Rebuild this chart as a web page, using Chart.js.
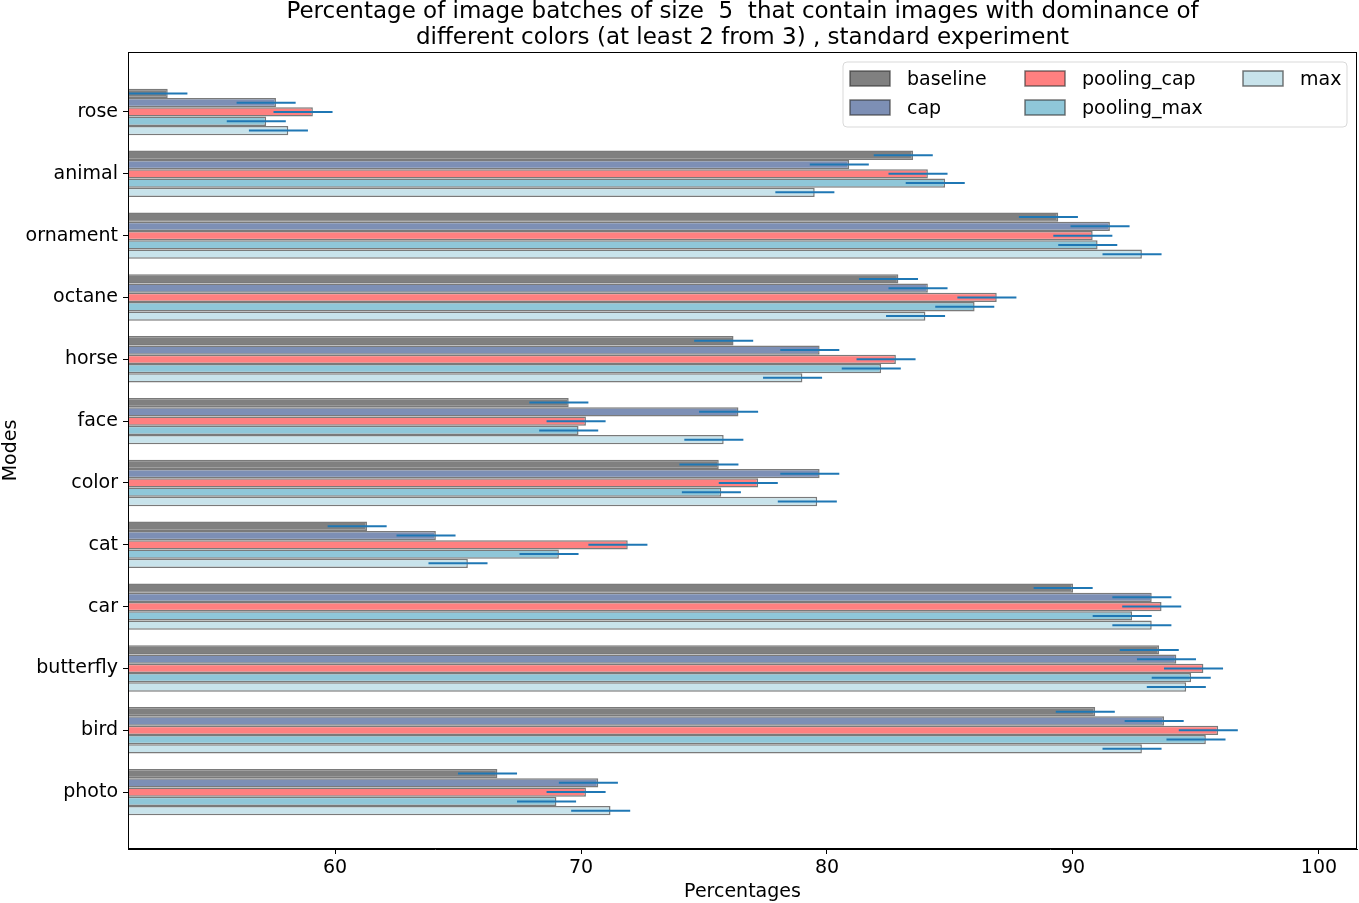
<!DOCTYPE html>
<html>
<head>
<meta charset="utf-8">
<title>Dominance of different colors</title>
<script src="https://cdn.jsdelivr.net/npm/chart.js@4"></script>
<style>
  html, body { margin: 0; padding: 0; background: #fff; }
  #wrap { width: 1359px; height: 903px; position: relative; }
</style>
</head>
<body>
<div id="wrap"><canvas id="chart"></canvas></div>
<script>
const categories = ["rose", "animal", "ornament", "octane", "horse", "face", "color", "cat", "car", "butterfly", "bird", "photo"];
const seriesNames = ["baseline", "cap", "pooling_cap", "pooling_max", "max"];

const baseline   = [53.2, 83.5, 89.4, 82.9, 76.2, 69.5, 75.6, 61.3, 90.0, 93.5, 90.9, 66.6];
const cap        = [57.6, 80.9, 91.5, 84.1, 79.7, 76.4, 79.7, 64.1, 93.2, 94.2, 93.7, 70.7];
const poolingCap = [59.1, 84.1, 90.8, 86.9, 82.8, 70.2, 77.2, 71.9, 93.6, 95.3, 95.9, 70.2];
const poolingMax = [57.2, 84.8, 91.0, 86.0, 82.2, 69.9, 75.7, 69.1, 92.4, 94.8, 95.4, 69.0];
const maxSeries  = [58.1, 79.5, 92.8, 84.0, 79.0, 75.8, 79.6, 65.4, 93.2, 94.6, 92.8, 71.2];

// error bar extent below / above the bar end
const errLow = 1.6;
const errHigh = 0.8;

const xTicks = [60, 70, 80, 90, 100];
const colors = ["#808080", "#7d8fb5", "#ff8080", "#8fc7d9", "#c8e3eb"];
const titleLines = [
  "Percentage of image batches of size  5  that contain images with dominance of",
  "different colors (at least 2 from 3) , standard experiment"
];

const FONT = "'DejaVu Sans', sans-serif";
const allSeries = [baseline, cap, poolingCap, poolingMax, maxSeries];

const datasets = allSeries.map((vals, s) => ({
  label: seriesNames[s],
  data: vals.map((v, i) => ({ x: v, y: i })),
  backgroundColor: colors[s],
  borderColor: "rgba(50,50,50,0.65)",
  borderWidth: 1.5,
  borderSkipped: false,
  categoryPercentage: 0.75,
  barPercentage: 1.0
}));

// horizontal error bars
const errorBars = {
  id: "errorBars",
  afterDatasetsDraw(chart) {
    const { ctx, chartArea: a, scales: { x } } = chart;
    ctx.save();
    ctx.beginPath();
    ctx.rect(a.left, a.top, a.right - a.left, a.bottom - a.top);
    ctx.clip();
    ctx.strokeStyle = "#1f77b4";
    ctx.lineWidth = 2;
    chart.data.datasets.forEach((ds, s) => {
      const meta = chart.getDatasetMeta(s);
      meta.data.forEach((bar, i) => {
        const v = ds.data[i].x;
        ctx.beginPath();
        ctx.moveTo(x.getPixelForValue(v - errLow), bar.y);
        ctx.lineTo(x.getPixelForValue(v + errHigh), bar.y);
        ctx.stroke();
      });
    });
    ctx.restore();
  }
};

// title centred over the plot, frame round the plot and a three-column legend
const decorations = {
  id: "decorations",
  afterDraw(chart) {
    const { ctx, chartArea: a } = chart;
    ctx.save();
    ctx.fillStyle = "#000";
    ctx.font = "23px " + FONT;
    ctx.textAlign = "center";
    ctx.textBaseline = "alphabetic";
    const cx0 = (a.left + a.right) / 2;
    ctx.fillText(titleLines[0], cx0, 18);
    ctx.fillText(titleLines[1], cx0, 44);

    ctx.strokeStyle = "#000";
    ctx.lineWidth = 1;
    ctx.strokeRect(a.left + 0.5, a.top + 0.5, a.right - a.left - 1, a.bottom - a.top - 1);

    // legend box
    const bx = 843, by = 62, bw = 504, bh = 65, r = 4;
    ctx.beginPath();
    ctx.moveTo(bx + r, by);
    ctx.arcTo(bx + bw, by, bx + bw, by + bh, r);
    ctx.arcTo(bx + bw, by + bh, bx, by + bh, r);
    ctx.arcTo(bx, by + bh, bx, by, r);
    ctx.arcTo(bx, by, bx + bw, by, r);
    ctx.closePath();
    ctx.fillStyle = "rgba(255,255,255,0.8)";
    ctx.fill();
    ctx.strokeStyle = "#d9d9d9";
    ctx.stroke();

    const colX = [850, 1025, 1243];
    const rowY = [78.5, 107.5];
    ctx.font = "19px " + FONT;
    ctx.textBaseline = "middle";
    ctx.textAlign = "left";
    chart.data.datasets.forEach((ds, s) => {
      const cx = colX[Math.floor(s / 2)];
      const cy = rowY[s % 2];
      ctx.fillStyle = ds.backgroundColor;
      ctx.fillRect(cx, cy - 7.5, 40, 15);
      ctx.strokeStyle = "rgba(50,50,50,0.65)";
      ctx.lineWidth = 1.5;
      ctx.strokeRect(cx, cy - 7.5, 40, 15);
      ctx.fillStyle = "#000";
      ctx.fillText(ds.label, cx + 57, cy + 1.5);
    });
    ctx.restore();
  }
};

new Chart(document.getElementById("chart"), {
  type: "bar",
  data: { datasets },
  plugins: [errorBars, decorations],
  options: {
    indexAxis: "y",
    responsive: true,
    maintainAspectRatio: false,
    animation: false,
    devicePixelRatio: 1,
    layout: { padding: { top: 52, left: 0, right: 2, bottom: 0 } },
    plugins: {
      legend: { display: false },
      tooltip: { enabled: false },
      title: { display: false }
    },
    scales: {
      x: {
        type: "linear",
        min: 51.585,
        max: 101.545,
        afterBuildTicks: (s) => { s.ticks = xTicks.map(v => ({ value: v })); },
        afterFit: (s) => { s.height = 54; },
        ticks: { color: "#000", font: { family: FONT, size: 19 }, padding: 3, maxRotation: 0 },
        grid: { drawOnChartArea: false, drawTicks: true, tickLength: 5, tickColor: "#000" },
        border: { display: true, color: "#000" },
        title: { display: true, text: "Percentages", color: "#000", padding: 0, font: { family: FONT, size: 19 } }
      },
      y: {
        type: "linear",
        reverse: true,
        offset: false,
        min: -0.97,
        max: 11.92,
        afterBuildTicks: (s) => { s.ticks = categories.map((_, i) => ({ value: i })); },
        afterFit: (s) => { s.width = 128; },
        ticks: {
          color: "#000",
          font: { family: FONT, size: 19 },
          padding: 5,
          callback: (v) => categories[v] ?? ""
        },
        grid: { offset: false, drawOnChartArea: false, drawTicks: true, tickLength: 5, tickColor: "#000" },
        border: { display: true, color: "#000" },
        title: { display: true, text: "Modes", color: "#000", padding: 0, font: { family: FONT, size: 19 } }
      }
    }
  }
});
</script>
</body>
</html>
